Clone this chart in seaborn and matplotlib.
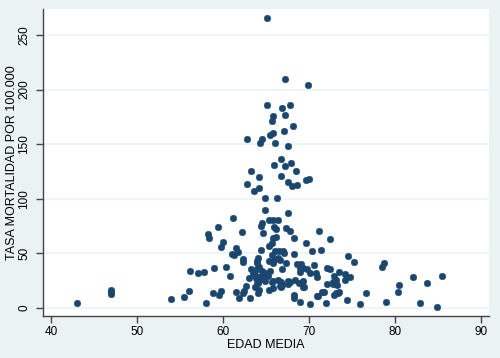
#!/usr/bin/env python3
"""
Tasa de mortalidad vs edad media - scatter estilo Stata (s2color)
"""

import numpy as np
import pandas as pd
import matplotlib
matplotlib.use('Agg')
import matplotlib.pyplot as plt
import seaborn as sns

# 데이터
edad_media = [
    65.15, 67.25, 69.9,
    65.1, 66.9, 67.8,
    65.8, 67.25, 65.7, 68.1, 67.1, 65.8, 65.5, 62.8, 64.5, 64.3, 66.0, 67.5,
    66.7, 67.85, 65.9, 67.2, 63.3, 68.5, 64.15, 66.8, 69.7, 70.0,
    62.75, 67.6, 68.0, 68.6, 64.15, 63.6,
    64.9, 66.3,
    64.9, 67.5,
    61.2, 64.5, 65.3, 65.85, 66.45,
    64.4, 65.9, 66.2, 67.3, 67.8, 71.2, 62.2, 64.6, 59.45, 58.3, 58.35, 65.85, 66.2, 68.2, 72.4,
    60.0, 65.7, 69.6, 59.8, 65.3, 61.5, 61.7, 64.4, 66.1, 66.5, 67.0, 70.4, 71.4,
    61.1, 61.3, 65.7, 66.4, 64.1, 68.3, 74.5,
    75.2, 62.3, 62.3, 64.0, 65.3, 65.8, 65.9, 63.9, 68.6, 69.1, 70.6, 78.5, 78.7,
    59.0, 60.35, 63.2, 64.0, 65.5, 66.9, 68.9, 69.3, 69.8, 72.1, 72.4,
    56.2, 57.1, 57.8, 73.5, 69.0, 70.1, 70.8, 74.2, 70.9, 72.85, 74.8, 60.8, 82.1, 85.5,
    63.0, 63.8, 64.2, 64.9, 65.8, 66.4, 67.5, 68.4, 69.3, 73.1, 74.2, 72.8,
    64.1, 65.7, 66.7, 67.8, 68.8, 67.6, 72.75, 72.05, 73.2, 83.7, 80.5,
    62.7, 66.6, 66.9, 63.7, 66.8, 69.3, 69.4,
    65.8, 65.4, 64.2, 56.0, 59.8, 61.5, 62.4, 80.35, 47.0, 47.0, 47.0,
    58.8, 62.35, 64.1, 71.5, 71.8, 73.1, 73.5, 73.4, 76.6, 59.5, 68.2, 72.9, 71.1, 70.9,
    61.9, 63.1, 68.3, 55.5, 54.0, 74.45, 69.0, 78.9, 43.0, 82.9, 58.0, 72.0, 75.9, 70.1, 84.9,
    64.2, 64.6, 64.3, 64.9, 65.2, 64.5, 63.5, 63.7, 64.5, 64.0, 67.3, 66.6, 67.1,
]
tasa_mortalidad = [
    266, 210, 204,
    186, 183, 186,
    176, 177, 171.5, 167, 162, 160, 158, 155, 155, 151, 151, 148.5,
    136.3, 133, 131, 130, 125.7, 125.7, 120.2, 121, 117.5, 118,
    114, 115, 111.5, 112.5, 109.5, 107,
    101, 101,
    90, 87,
    82.4, 78, 81, 80.5, 80.6,
    75, 73.9, 72, 73.5, 70.8, 70.8, 69.8, 69, 73.9, 67.5, 64.5, 64, 65.5, 64, 63.2,
    60.3, 59.2, 59.2, 55.5, 56.8, 54.8, 51.6, 52.8, 52, 52.5, 52.2, 52.2, 53.1,
    49.5, 48.3, 48.5, 46, 45.8, 49.2, 47.3,
    41.9, 44.6, 42, 42.8, 43, 41, 44, 41, 40, 40, 39, 37.8, 40.9,
    36.9, 37.8, 35.7, 35.7, 34.2, 35.4, 36.3, 36.3, 35.4, 36.3, 36,
    33.9, 31.7, 32.7, 33.3, 32.7, 31.7, 31.7, 31.1, 28.7, 29, 28.1, 29, 28.7, 29.6,
    27.2, 27.2, 25.6, 24.7, 25, 25.6, 25, 25.6, 24.7, 26, 25.6, 24.1,
    22.6, 24.1, 23.8, 23.8, 22.6, 22, 22, 21.7, 20.8, 23.2, 21.1,
    20.1, 20.1, 21.1, 19.5, 19.5, 19.5, 19,
    18, 16.5, 16.5, 15.3, 15.7, 14.9, 15.6, 14.9, 16.5, 14.7, 12.5,
    14, 14, 14, 14.4, 14.4, 14, 14.9, 13.5, 13.5, 12.3, 12.3, 11.9, 11.3, 11,
    9.2, 9.5, 8.9, 9.8, 8.2, 7.3, 5.8, 5.8, 4.9, 4.9, 4.3, 4.3, 3.9, 3.5, 0.9,
    38, 30, 28.5, 32, 29, 33.5, 31, 30.5, 29.5, 24, 41, 44, 50.6,
]
x_ticks = [40, 50, 60, 70, 80, 90]
y_ticks = [0, 50, 100, 150, 200, 250]

# 스타일
BG = '#EAF2F3'
NAVY = '#1A476F'
plt.rcParams['font.family'] = ['Liberation Sans', 'DejaVu Sans']

df = pd.DataFrame({'edad': edad_media, 'tasa': tasa_mortalidad})

fig = plt.figure(figsize=(5, 3.58), dpi=100, facecolor=BG)
ax = fig.add_axes([0.086, 0.1173, 0.892, 0.8575])
ax.set_facecolor('white')

sns.scatterplot(data=df, x='edad', y='tasa', color=NAVY, s=23,
                edgecolor=NAVY, linewidth=0.3, ax=ax, zorder=3)

ax.set_xlim(39.07, 90.93)
ax.set_ylim(-7.3, 273.8)
ax.set_xticks(x_ticks)
ax.set_yticks(y_ticks)
ax.set_xticklabels([str(t) for t in x_ticks], fontsize=8.5)
ax.set_yticklabels([str(t) for t in y_ticks], fontsize=8.5, rotation=90, va='center')

# 그리드 (가로선만)
ax.grid(False)
for t in y_ticks:
    ax.axhline(t, color=BG, linewidth=1.1, zorder=1)

for side in ['top', 'right']:
    ax.spines[side].set_visible(False)
for side in ['left', 'bottom']:
    ax.spines[side].set_color('#444444')
    ax.spines[side].set_linewidth(1.0)
ax.tick_params(axis='x', direction='out', length=5, width=1.0, color='#444444',
               labelcolor='black', pad=2)
ax.tick_params(axis='y', direction='out', length=5, width=1.0, color='#444444',
               labelcolor='black', pad=4)

ax.set_xlabel('EDAD MEDIA', fontsize=9, labelpad=1)
ax.set_ylabel('TASA MORTALIDAD POR 100.000', fontsize=9)
ax.yaxis.set_label_coords(-0.055, 0.5)

plt.savefig('out.png', dpi=100, facecolor=BG)
plt.close()
